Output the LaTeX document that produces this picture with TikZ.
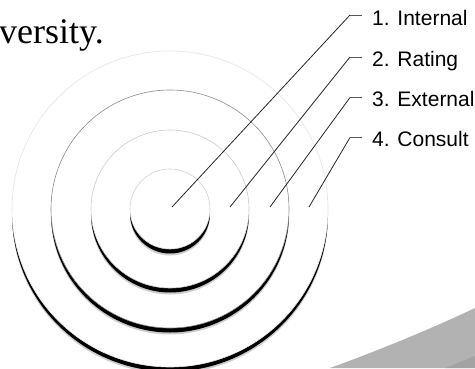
\documentclass[tikz,border=0pt]{standalone}
\usepackage{fontspec}
\setmainfont{Liberation Serif}
\newfontfamily\labfont{Liberation Sans}
\tikzset{
  lab/.style={anchor=base west, inner sep=0pt, font=\labfont\fontsize{21}{25}\selectfont, text=black},
  leader/.style={draw=black!85, line width=0.8pt},
  tick/.style={draw=black!65, line width=0.9pt},
}
\begin{document}
\begin{tikzpicture}[x=1pt,y=-1pt]
\useasboundingbox (0,0) rectangle (475,368);
\clip (0,0) rectangle (475,368);
\fill[white] (0,0) rectangle (475,368);
% swoosh
\fill[black!30] (330,368) .. controls (385,348) and (435,327) .. (475,308) -- (475,368) -- cycle;
\fill[black!36] (445,368) .. controls (455,364) and (465,360) .. (475,356) -- (475,368) -- cycle;
% title fragment
\node[anchor=base west, inner sep=0pt, font=\fontsize{36}{40}\selectfont] (title) at (-1,43) {versity.};
% rings
\coordinate (o) at (170,209);
\foreach \r/\c in {158/10,119/45,79/20,40/18}{
  \fill[black, opacity=0.2] ([yshift=-6.5pt]o) circle (\r);
  \fill[black] ([yshift=-4.5pt]o) circle (\r);
  \fill[white] (o) circle (\r);
  \draw[black!\c, line width=0.6pt] (o) circle (\r);
}
% labels
\node[lab] (l1) at (372,25) {1. Internal};
\node[lab] (l2) at (372,66) {2. Rating};
\node[lab] (l3) at (372,106.5) {3. External};
\node[lab] (l4) at (372,146.5) {4. Consult};
\coordinate (p1) at (172,207);
\coordinate (p2) at (230,207);
\coordinate (p3) at (270,207);
\coordinate (p4) at (309,207);
\coordinate (c1) at (350,15);
\coordinate (c2) at (350,57);
\coordinate (c3) at (350,97.5);
\coordinate (c4) at (350,137.5);
\coordinate (t1) at (362,15);
\coordinate (t2) at (362,57);
\coordinate (t3) at (362,97.5);
\coordinate (t4) at (362,137.5);
\foreach \i in {1,2,3,4}{
  \draw[leader] (p\i) -- (c\i);
  \draw[tick] (c\i) -- (t\i);
}
\end{tikzpicture}
\end{document}
